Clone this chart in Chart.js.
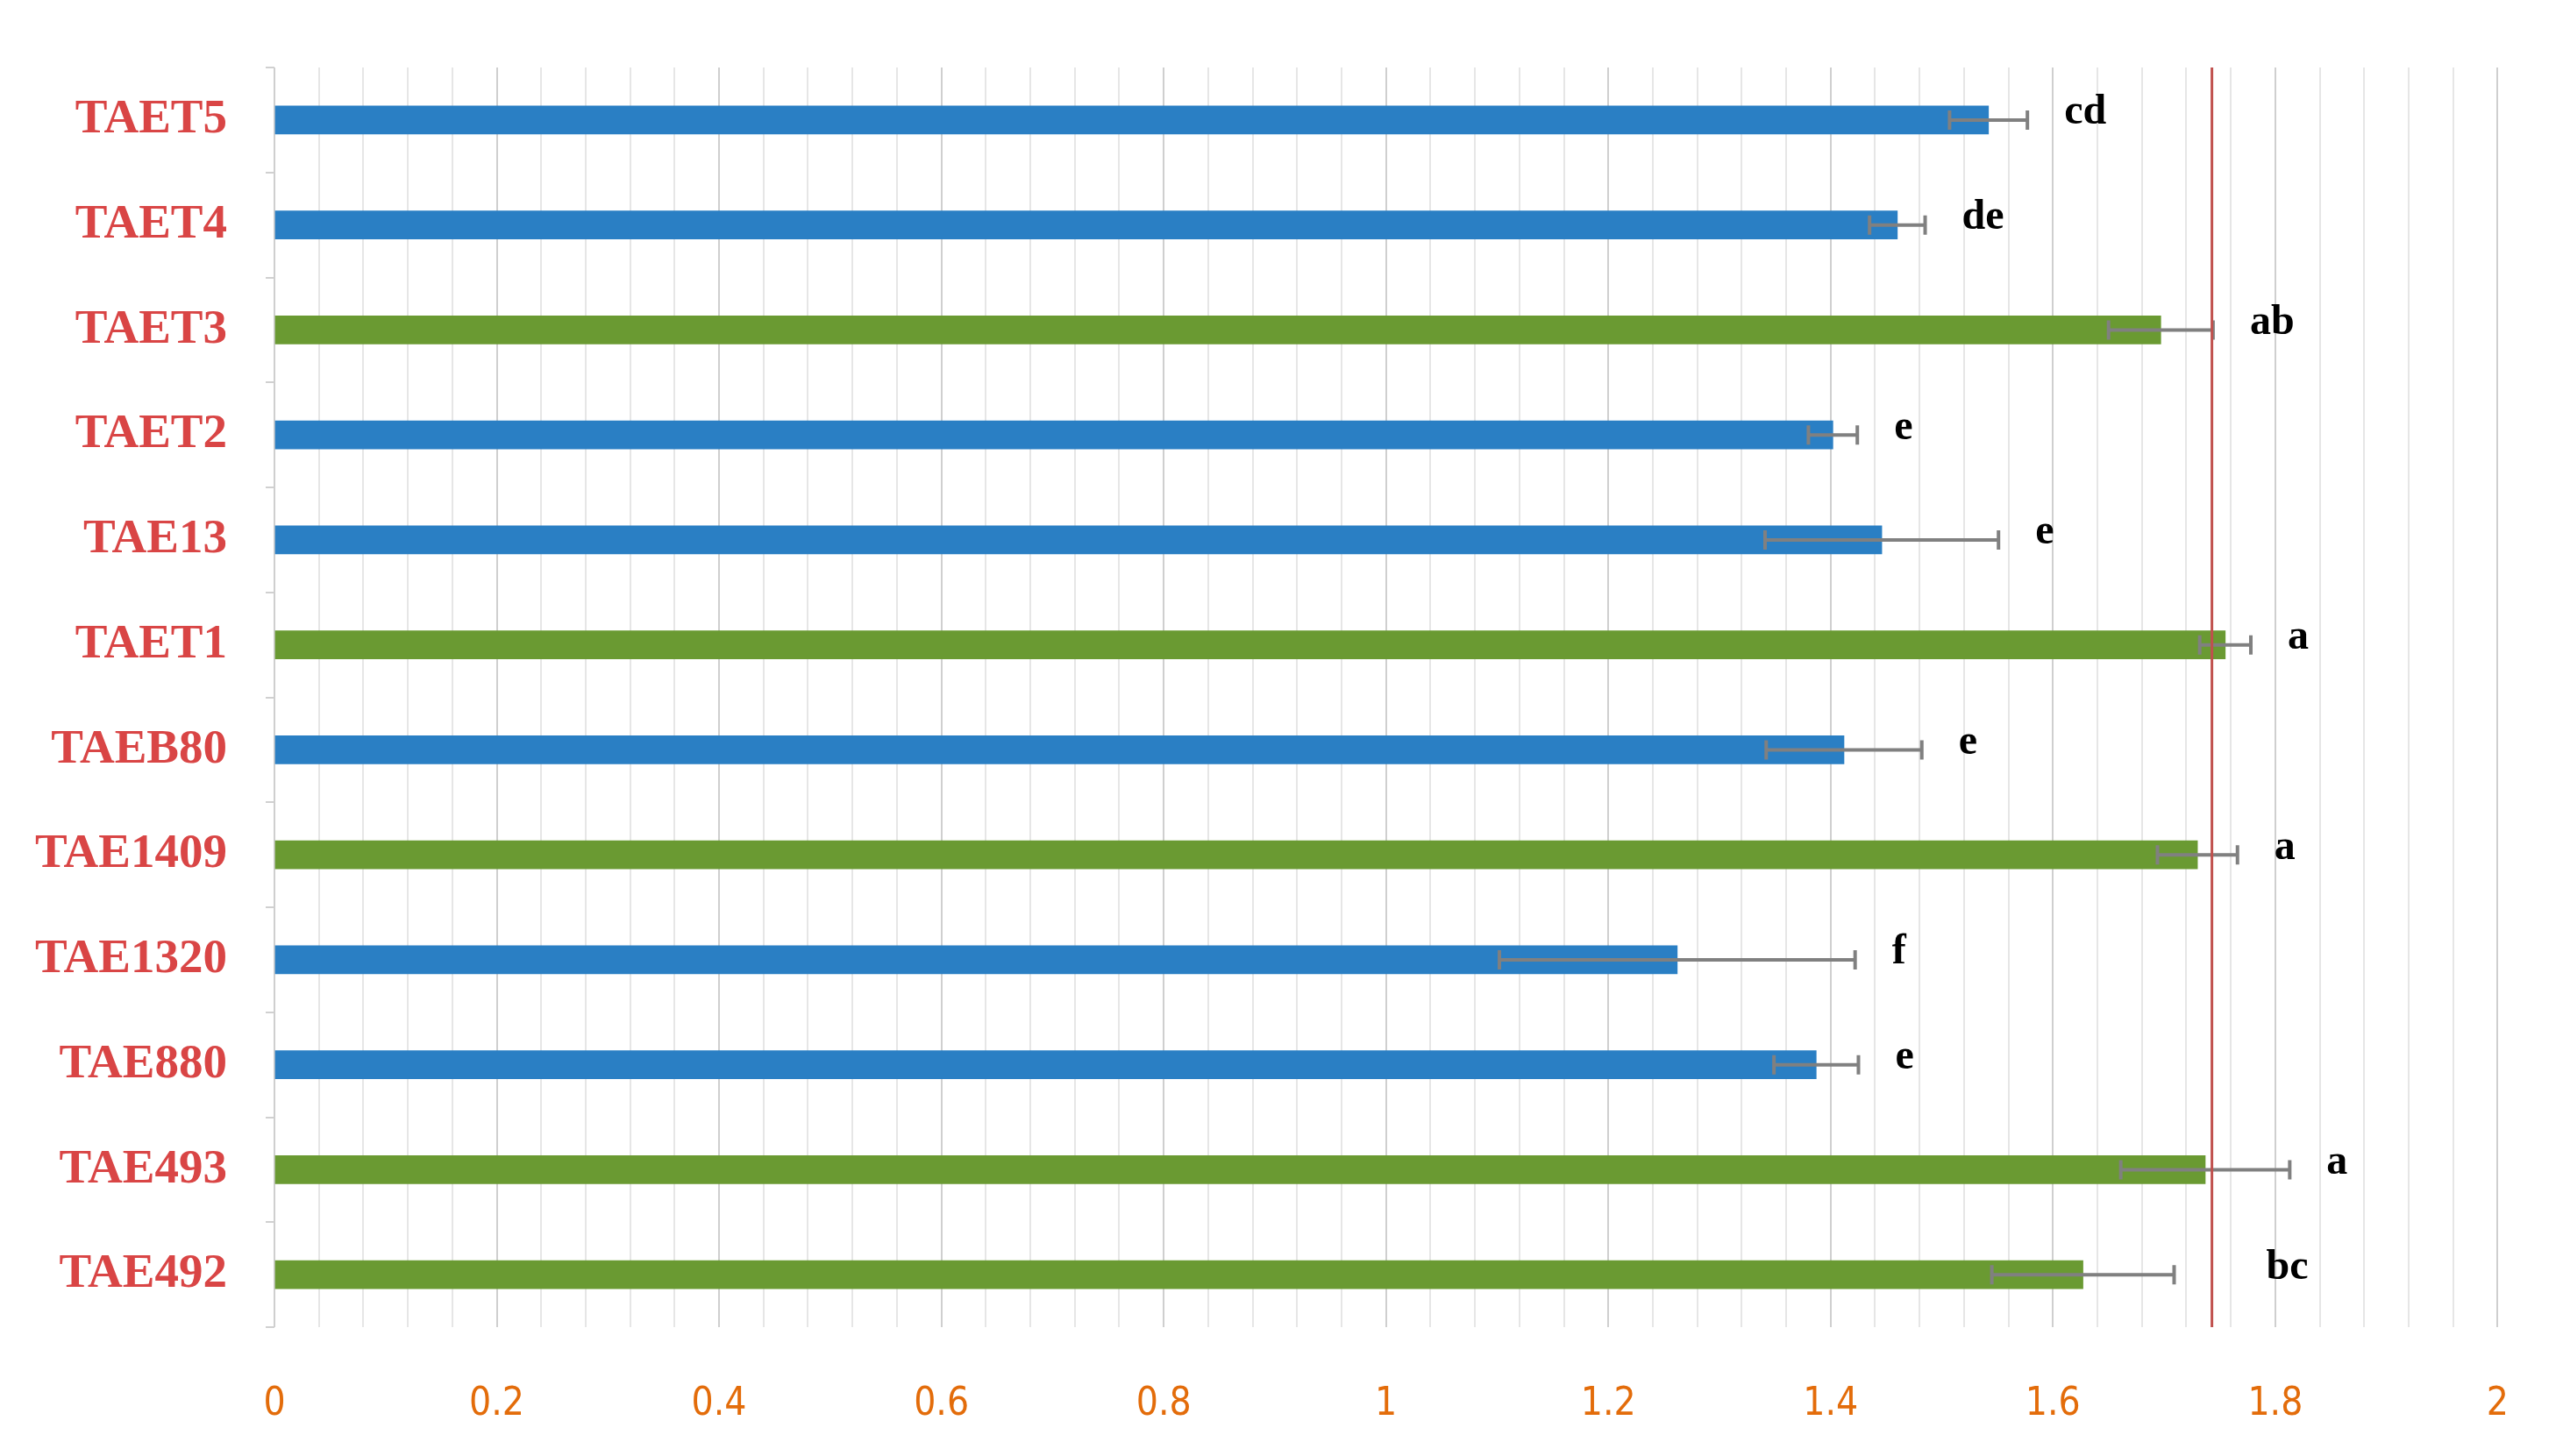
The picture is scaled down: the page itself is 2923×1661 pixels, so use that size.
<!DOCTYPE html>
<html><head><meta charset="utf-8">
<script src="https://cdn.jsdelivr.net/npm/chart.js@4"></script>
<style>html,body{margin:0;padding:0;background:#fff}#w{width:2923px;height:1661px}</style>
</head><body><div id="w"><canvas id="c"></canvas></div>
<script>
const categories = ['TAET5','TAET4','TAET3','TAET2','TAE13','TAET1','TAEB80','TAE1409','TAE1320','TAE880','TAE493','TAE492'];
const values = [1.542,1.460,1.697,1.402,1.446,1.755,1.412,1.730,1.262,1.387,1.737,1.627];
const errors = [0.035,0.025,0.047,0.022,0.105,0.023,0.070,0.036,0.160,0.038,0.076,0.082];
const letters = ['cd','de','ab','e','e','a','e','a','f','e','a','bc'];
const groups = ['blue','blue','green','blue','blue','green','blue','green','blue','blue','green','green'];
const refLine = 1.743;
const colorMap = {blue:'#2a7fc4', green:'#6a9a32'};

const overlay = {
  id:'overlay',
  afterDatasetsDraw(chart){
    const ctx = chart.ctx, x = chart.scales.x, y = chart.scales.y, a = chart.chartArea;
    ctx.save();
    ctx.strokeStyle = '#808080'; ctx.lineWidth = 4;
    values.forEach((v,i)=>{
      const yc = y.getPixelForValue(i);
      const x1 = x.getPixelForValue(v-errors[i]), x2 = x.getPixelForValue(v+errors[i]);
      ctx.beginPath();
      ctx.moveTo(x1,yc); ctx.lineTo(x2,yc);
      ctx.moveTo(x1,yc-11); ctx.lineTo(x1,yc+11);
      ctx.moveTo(x2,yc-11); ctx.lineTo(x2,yc+11);
      ctx.stroke();
    });
    const rx = x.getPixelForValue(refLine);
    ctx.strokeStyle = '#c0504d'; ctx.lineWidth = 3;
    ctx.beginPath(); ctx.moveTo(rx,a.top); ctx.lineTo(rx,a.bottom); ctx.stroke();
    ctx.fillStyle = '#000'; ctx.font = 'bold 48px "Liberation Serif", serif';
    ctx.textBaseline = 'middle'; ctx.textAlign = 'left';
    values.forEach((v,i)=>{
      const yc = y.getPixelForValue(i) - 8;
      let xe = x.getPixelForValue(v+errors[i]) + 42;
      if (xe < rx + 20 && xe > rx - 60) xe = rx + 62;
      ctx.fillText(letters[i], xe, yc);
    });
    ctx.restore();
  }
};

new Chart(document.getElementById('c'), {
  type:'bar',
  data:{labels:categories, datasets:[{data:values, backgroundColor:groups.map(g=>colorMap[g]), barThickness:32, borderWidth:0}]},
  options:{
    indexAxis:'y', responsive:true, maintainAspectRatio:false, animation:false,
    layout:{padding:{top:52,right:22,bottom:0,left:0}},
    plugins:{legend:{display:false}, tooltip:{enabled:false}},
    scales:{
      x:{min:0,max:2,
        afterFit(s){s.height=147;},
        afterBuildTicks(s){const t=[];for(let k=0;k<=50;k++)t.push({value:k*0.04});s.ticks=t;},
        border:{display:false},
        grid:{color(c){const v=Math.round(c.tick.value*100);return v%20===0?'#cfcfcf':'#e6e6e6';}, lineWidth:2, drawTicks:false},
        ticks:{autoSkip:false, maxRotation:0, padding:62, color:'#e36c0a',
          font:{size:44, family:'"Liberation Sans Narrow","DejaVu Sans Condensed",sans-serif'},
          callback(v){const n=Math.round(v*100);return n%20===0?String(parseFloat((n/100).toFixed(1))):'';}}
      },
      y:{
        afterFit(s){s.width=313;},
        border:{display:false},
        grid:{offset:true, drawOnChartArea:false, drawTicks:true, tickLength:10, color:'#d0d0d0', lineWidth:2},
        ticks:{color:'#d94545', padding:44, font:{size:55, weight:'bold', family:'"Liberation Serif",serif'}}
      }
    }
  },
  plugins:[overlay]
});
</script></body></html>
